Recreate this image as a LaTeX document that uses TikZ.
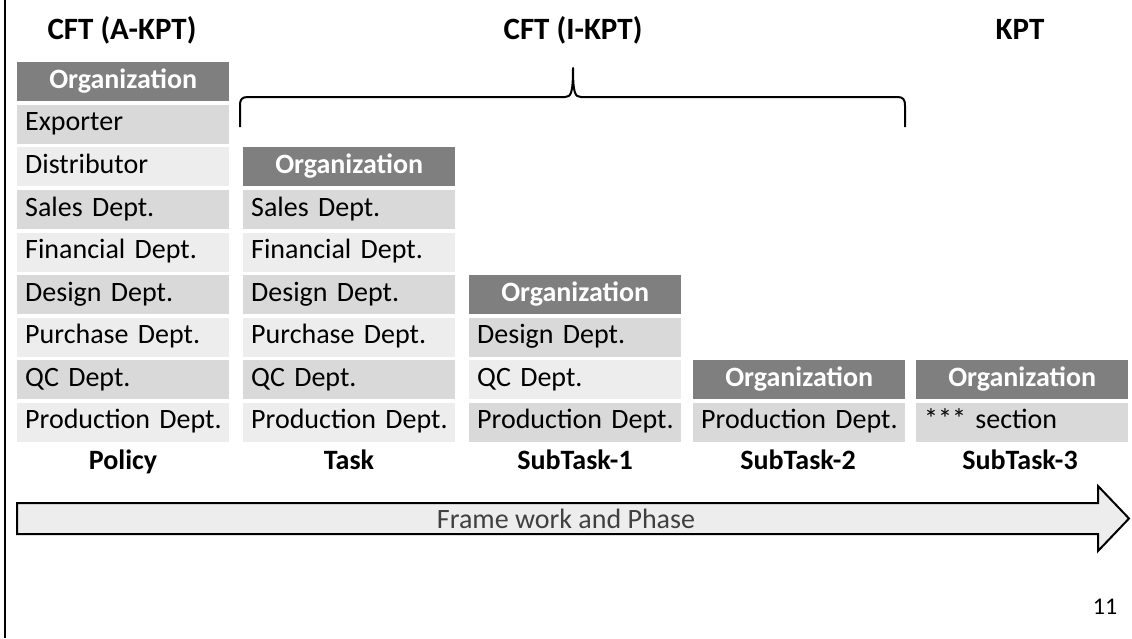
\documentclass[tikz,border=0pt]{standalone}
\usepackage{fontspec}
\setmainfont{Carlito}
\definecolor{headgray}{HTML}{7F7F7F}
\definecolor{rowdark}{HTML}{D9D9D9}
\definecolor{rowlight}{HTML}{EDEDED}
\definecolor{phasegray}{HTML}{404040}

\begin{document}
\begin{tikzpicture}[x=1pt, y=-1pt,
  cell/.style={anchor=north west, minimum height=39pt, text width=204pt,
    inner xsep=4pt, inner ysep=0pt, text height=19pt, text depth=6pt,
    align=left, font=\fontsize{28}{32}\selectfont},
  celldark/.style={cell, fill=rowdark},
  celllight/.style={cell, fill=rowlight},
  orgcell/.style={cell, fill=headgray, text=white, align=center,
    font=\fontsize{28}{32}\selectfont\bfseries},
  steplabel/.style={text height=19pt, text depth=6pt,
    font=\fontsize{28}{32}\selectfont\bfseries},
  toplabel/.style={text height=21pt, text depth=7pt,
    font=\fontsize{31}{34}\selectfont\bfseries}]
\useasboundingbox (0,0) rectangle (1132,638);
\draw[line width=2.5pt] (5,0) -- (5,638);

% group titles
\node[toplabel] (akpt) at (122,32) {CFT (A-KPT)};
\node[toplabel] (ikpt) at (573,32) {CFT (I-KPT)};
\node[toplabel] (kpt) at (1020,32) {KPT};

% brace over the I-KPT columns
\draw[line width=2pt, line join=round]
  (240,127) -- (240,106) .. controls (240,99) and (242,97) .. (248,97)
  -- (565,97) .. controls (571,97) and (573,93) .. (573,68)
  .. controls (573,93) and (575,97) .. (581,97)
  -- (897,97) .. controls (903,97) and (905,99) .. (905,106) -- (905,127);

% Policy
\node[orgcell] (pol0) at (17,62) {Organization};
\node[celldark] (pol1) at (17,104.5) {\hspace*{4pt}Exporter};
\node[celllight] (pol2) at (17,147) {\hspace*{4pt}Distributor};
\node[celldark] (pol3) at (17,190) {\hspace*{4pt}Sales Dept.};
\node[celllight] (pol4) at (17,232.5) {\hspace*{4pt}Financial Dept.};
\node[celldark] (pol5) at (17,275) {\hspace*{4pt}Design Dept.};
\node[celllight] (pol6) at (17,317.5) {\hspace*{4pt}Purchase Dept.};
\node[celldark] (pol7) at (17,360) {\hspace*{4pt}QC Dept.};
\node[celllight] (pol8) at (17,402.5) {\hspace*{4pt}Production Dept.};

% Task
\node[orgcell] (task0) at (243,147) {Organization};
\node[celldark] (task1) at (243,190) {\hspace*{4pt}Sales Dept.};
\node[celllight] (task2) at (243,232.5) {\hspace*{4pt}Financial Dept.};
\node[celldark] (task3) at (243,275) {\hspace*{4pt}Design Dept.};
\node[celllight] (task4) at (243,317.5) {\hspace*{4pt}Purchase Dept.};
\node[celldark] (task5) at (243,360) {\hspace*{4pt}QC Dept.};
\node[celllight] (task6) at (243,402.5) {\hspace*{4pt}Production Dept.};

% SubTask-1
\node[orgcell] (suba0) at (469,275) {Organization};
\node[celldark] (suba1) at (469,317.5) {\hspace*{4pt}Design Dept.};
\node[celllight] (suba2) at (469,360) {\hspace*{4pt}QC Dept.};
\node[celldark] (suba3) at (469,402.5) {\hspace*{4pt}Production Dept.};

% SubTask-2
\node[orgcell] (subb0) at (693,360) {Organization};
\node[celldark] (subb1) at (693,402.5) {\hspace*{4pt}Production Dept.};

% SubTask-3
\node[orgcell] (subc0) at (916,360) {Organization};
\node[celldark] (subc1) at (916,402.5) {\hspace*{4pt}*** section};

% step names
\node[steplabel] (policy) at (123,463) {Policy};
\node[steplabel] (task) at (349,463) {Task};
\node[steplabel] (subtaska) at (575,463) {SubTask-1};
\node[steplabel] (subtaskb) at (798,463) {SubTask-2};
\node[steplabel] (subtaskc) at (1020,463) {SubTask-3};

% phase arrow
\draw[line width=2pt, fill=rowlight]
  (17,503) -- (1098,503) -- (1098,486) -- (1129,518.5) -- (1098,551)
  -- (1098,534) -- (17,534) -- cycle;
\node[text=phasegray, font=\fontsize{28}{30}\selectfont] (phase) at (566,518.5)
  {Frame work and Phase};

\node[font=\fontsize{24}{28}\selectfont] (page) at (1105,607) {11};
\end{tikzpicture}
\end{document}
